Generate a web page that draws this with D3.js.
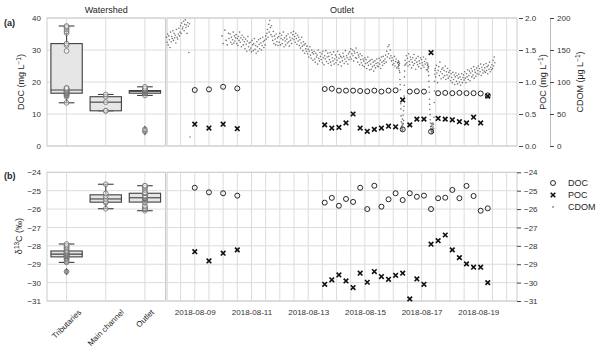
<!DOCTYPE html>
<html>
<head>
<meta charset="utf-8">
<script src="https://d3js.org/d3.v7.min.js"></script>
<style>
body { margin: 0; background: #fff; }
text { font-family: "Liberation Sans", Arial, sans-serif; fill: #262626; }
</style>
</head>
<body>
<script>
// ---- data ----
var categories = ["Tributaries", "Main channel", "Outlet"];

var tribDOC = [13.5, 15.4, 15.8, 16.0, 16.2, 16.4, 16.5, 16.7, 16.9, 17.0, 17.2, 17.4, 17.5,
  17.8, 18.0, 18.2, 29.7, 31.5, 32.0, 35.3, 35.8, 36.4, 36.9, 37.2, 37.5];
var mainDOC = [11.0, 11.0, 13.7, 15.4, 16.1];

var tribIso = [-29.40, -28.90, -28.85, -28.75, -28.70, -28.65, -28.60, -28.57, -28.55, -28.52,
  -28.50, -28.48, -28.45, -28.42, -28.40, -28.36, -28.33, -28.30, -28.28, -28.22, -28.15,
  -28.10, -28.05, -27.98, -27.90];
var mainIso = [-25.98, -25.65, -25.60, -25.45, -25.30, -25.15, -24.65];

var sampleTimes = ["2018-08-09T00:00", "2018-08-09T12:00", "2018-08-10T00:00", "2018-08-10T12:00",
  "2018-08-13T14:00", "2018-08-13T20:00", "2018-08-14T02:00", "2018-08-14T08:00",
  "2018-08-14T14:00", "2018-08-14T20:00", "2018-08-15T02:00", "2018-08-15T08:00",
  "2018-08-15T14:00", "2018-08-15T20:00", "2018-08-16T02:00", "2018-08-16T08:00",
  "2018-08-16T14:00", "2018-08-16T20:00", "2018-08-17T02:00", "2018-08-17T08:00",
  "2018-08-17T14:00", "2018-08-17T20:00", "2018-08-18T02:00", "2018-08-18T08:00",
  "2018-08-18T14:00", "2018-08-18T20:00", "2018-08-19T02:00", "2018-08-19T08:00"];
var outletDOC = [17.5, 17.7, 18.5, 18.0, 17.8, 17.9, 17.3, 17.3, 17.3, 17.2, 17.1, 17.3, 17.0,
  17.3, 17.4, 5.2, 17.0, 17.1, 17.0, 4.5, 16.5, 16.6, 16.5, 16.6, 16.5, 16.5, 16.4, 15.8];
var outletPOC = [0.34, 0.28, 0.34, 0.27, 0.33, 0.28, 0.29, 0.36, 0.50, 0.28, 0.23, 0.26, 0.28,
  0.31, 0.30, 0.72, 0.33, 0.42, 0.42, 1.46, 0.43, 0.42, 0.41, 0.38, 0.36, 0.45, 0.36, 0.78];
var outletIsoDOC = [-24.84, -25.09, -25.14, -25.27, -25.65, -25.39, -25.82, -25.45, -25.61,
  -24.84, -26.00, -24.73, -25.87, -25.47, -25.14, -25.51, -25.14, -25.33, -25.27, -26.00,
  -25.41, -25.38, -24.96, -25.41, -24.74, -25.29, -26.09, -25.96];
var outletIsoPOC = [-28.32, -28.82, -28.40, -28.22, -30.09, -29.85, -29.58, -29.91, -30.27,
  -29.49, -29.98, -29.40, -29.67, -29.82, -29.60, -29.49, -30.89, -29.80, -30.09, -27.91,
  -27.72, -27.41, -28.22, -28.64, -28.98, -29.16, -29.16, -30.00];

// CDOM logger record, split in pieces (start time, step in minutes, values)
var cdomStarts = ["2018-08-08T00:00", "2018-08-09T23:00", "2018-08-16T04:00",
  "2018-08-16T10:00", "2018-08-17T05:00", "2018-08-17T11:30"];
var cdomSteps = [30, 30, 10, 30, 10, 30];
var cdomA = [170, 162, 175, 158, 172, 166, 154, 178, 163, 171, 168, 180,
  165, 176, 169, 173, 161, 182, 170, 167, 175, 184, 172, 178,
  188, 176, 192, 183, 186, 195, 180, 190, 197, 185, 189, 176,
  193, 187, 146, 191, 14];
var cdomB = [172, null, 160, null, null, 181, null, 165, null, 158, null, 176,
  168, null, 175, 162, 170, 159, 166, 178, 161, 172, 164, 169,
  174, 160, 168, 157, 171, 165, 178, 162, 169, 155, 173, 166,
  158, 170, 163, 152, 167, 159, 148, 164, 171, 155, 161, 150,
  162, 153, 147, 165, 158, 149, 160, 168, 151, 157, 145, 163,
  155, 148, 166, 159, 152, 168, 161, 150, 157, 170, 163, 154,
  165, 158, 172, 167, 176, 182, 170, 190, 178, 196, 185, 174,
  188, 171, 165, 179, 160, 172, 167, 158, 175, 163, 169, 157,
  171, 162, 176, 158, 168, 173, 160, 166, 178, 155, 169, 164,
  158, 172, 167, 161, 175, 163, 156, 170, 165, 177, 160, 168,
  174, 179, 166, 171, 162, 176, 168, 159, 173, 164, 170, 157,
  166, 153, 161, 170, 156, 149, 163, 158, 145, 160, 152, 148,
  156, 144, 151, 139, 148, 155, 142, 137, 150, 146, 134, 144,
  148, 136, 131, 145, 139, 142, 128, 150, 137, 133, 146, 140,
  135, 144, 130, 148, 138, 127, 141, 136, 149, 132, 139, 145,
  129, 140, 135, 146, 131, 126, 143, 138, 133, 147, 128, 136,
  142, 130, 139, 134, 148, 127, 137, 143, 131, 140, 125, 138,
  133, 145, 140, 129, 136, 149, 132, 141, 138, 128, 144, 135,
  147, 139, 152, 136, 144, 150, 141, 133, 148, 145, 138, 153,
  137, 146, 131, 142, 139, 127, 144, 135, 130, 141, 126, 136,
  133, 124, 138, 129, 135, 121, 130, 139, 126, 132, 119, 134,
  128, 120, 135, 124, 131, 117, 126, 133, 122, 129, 136, 125,
  130, 124, 137, 128, 134, 121, 139, 131, 126, 140, 133, 129,
  136, 142, 131, 148, 139, 155, 144, 158, 137, 150, 141, 133,
  138, 127, 134, 129, 140, 125, 132, 136, 122, 130];
var cdomC = [130, 124, 133, 127, 121, 131, 126, 118, 129,
  115, 104, 96, 88, 75, 66, 58, 47, 38,
  31, 27, 36, 24, 42, 29, 33, 26, 48, 35, 55, 40,
  62, 78, 95, 108, 117, 126];
var cdomD = [134, 128, 141, 130, 137, 125, 144, 132, 127, 139, 135, 122,
  131, 138, 126, 143, 129, 134, 120, 137, 131, 127, 140, 124,
  133, 129, 138, 121, 135, 130, 126, 139, 123, 132, 128, 136, 119, 130];
var cdomE = [126, 119, 128, 122, 116, 124,
  110, 101, 92, 84, 73, 65, 57, 49, 41, 36, 30, 27,
  24, 31, 22, 35, 26, 20, 33, 28, 23, 36, 25, 30, 21, 34, 27,
  45, 68, 86, 101, 112, 118];
var cdomF = [121, 108, 126, 114, 99, 118, 124, 110, 131, 116, 105, 120,
  113, 122, 107, 118, 110, 125, 104, 116, 111, 121, 106, 115,
  109, 118, 102, 113, 107, 99, 115, 104, 111, 96, 108, 114,
  101, 110, 97, 106, 112, 100, 108, 95, 104, 113, 99, 107,
  111, 103, 116, 106, 99, 113, 108, 119, 104, 110, 117, 102,
  114, 121, 108, 117, 111, 124, 106, 119, 115, 109, 122, 113,
  118, 125, 112, 121, 116, 128, 110, 123, 119, 114, 127, 117,
  122, 115, 129, 118, 124, 113, 126, 120, 131, 116, 123, 119,
  127, 121, 134, 125, 139, 130];
var cdomPieces = [cdomA, cdomB, cdomC, cdomD, cdomE, cdomF];

var docTicks = [0, 10, 20, 30, 40];
var pocTicks = [0, 0.5, 1.0, 1.5, 2.0];
var cdomTicks = [0, 50, 100, 150, 200];
var isoTicks = [-31, -30, -29, -28, -27, -26, -25, -24];

// ---- setup ----
var parse = d3.timeParse("%Y-%m-%dT%H:%M");
var times = sampleTimes.map(parse);

var cdom = [];
cdomPieces.forEach(function(vals, k) {
  var t0 = parse(cdomStarts[k]);
  vals.forEach(function(v, i) {
    if (v !== null) cdom.push({ t: d3.timeMinute.offset(t0, i * cdomSteps[k]), v: v });
  });
});

var svg = d3.select("body").append("svg")
    .attr("width", 600)
    .attr("height", 351);

var leftX0 = 47, leftX1 = 165.5, rightX0 = 167, rightX1 = 517;
var aTop = 18, aBot = 146, bTop = 172.3, bBot = 301;
var gridCol = "#dcdcdc", frameCol = "#cccccc";

var xCat = d3.scaleBand().domain(categories).range([leftX0, 164.5]);
var xTime = d3.scaleTime()
    .domain([parse("2018-08-08T00:30"), parse("2018-08-20T08:45")])
    .range([rightX0, rightX1]);
var yDOC = d3.scaleLinear().domain([0, 40]).range([aBot, aTop]);
var yPOC = d3.scaleLinear().domain([0, 2]).range([aBot, aTop]);
var yCDOM = d3.scaleLinear().domain([0, 200]).range([aBot, aTop]);
var yIso = d3.scaleLinear().domain([-31, -24]).range([bBot, bTop]);

function cx(c) { return xCat(c) + xCat.bandwidth() / 2; }

// grid lines
function hGrid(ticks, y, x0, x1) {
  svg.append("g").selectAll("line").data(ticks).enter().append("line")
      .attr("x1", x0).attr("x2", x1)
      .attr("y1", function(d) { return y(d); }).attr("y2", function(d) { return y(d); })
      .attr("stroke", gridCol).attr("stroke-width", 1);
}
var halfDays = d3.timeHour.every(12).range(xTime.domain()[0], xTime.domain()[1]);
function vGridTime(top, bot) {
  svg.append("g").selectAll("line").data(halfDays).enter().append("line")
      .attr("x1", function(d) { return xTime(d); }).attr("x2", function(d) { return xTime(d); })
      .attr("y1", top).attr("y2", bot)
      .attr("stroke", gridCol).attr("stroke-width", 1);
}
function vGridCat(top, bot) {
  svg.append("g").selectAll("line").data(categories).enter().append("line")
      .attr("x1", cx).attr("x2", cx)
      .attr("y1", top).attr("y2", bot)
      .attr("stroke", gridCol).attr("stroke-width", 1);
}

[[aTop, aBot], [bTop, bBot]].forEach(function(p) {
  vGridCat(p[0], p[1]);
  vGridTime(p[0], p[1]);
});
hGrid(docTicks, yDOC, leftX0, leftX1);
hGrid(docTicks, yDOC, rightX0, rightX1);
hGrid(isoTicks, yIso, leftX0, leftX1);
hGrid(isoTicks, yIso, rightX0, rightX1);

function frame(x0, x1, top, bot) {
  svg.append("rect").attr("x", x0).attr("y", top)
      .attr("width", x1 - x0).attr("height", bot - top)
      .attr("fill", "none").attr("stroke", frameCol).attr("stroke-width", 1);
}
frame(leftX0, leftX1, aTop, aBot);
frame(rightX0, rightX1, aTop, aBot);
frame(leftX0, leftX1, bTop, bBot);
frame(rightX0, rightX1, bTop, bBot);

// ---- box plots ----
function drawBox(cat, values, y) {
  var s = values.slice().sort(d3.ascending);
  var q1 = d3.quantile(s, 0.25), med = d3.quantile(s, 0.5), q3 = d3.quantile(s, 0.75);
  var iqr = q3 - q1;
  var lo = d3.min(s.filter(function(v) { return v >= q1 - 1.5 * iqr; }));
  var hi = d3.max(s.filter(function(v) { return v <= q3 + 1.5 * iqr; }));
  var outl = s.filter(function(v) { return v < lo || v > hi; });
  var c = cx(cat), bw = xCat.bandwidth() * 0.8;
  var g = svg.append("g");
  var ink = "#3f3f3f";
  g.append("line").attr("x1", c).attr("x2", c).attr("y1", y(q3)).attr("y2", y(hi))
      .attr("stroke", ink).attr("stroke-width", 1.1);
  g.append("line").attr("x1", c).attr("x2", c).attr("y1", y(q1)).attr("y2", y(lo))
      .attr("stroke", ink).attr("stroke-width", 1.1);
  [lo, hi].forEach(function(v) {
    g.append("line").attr("x1", c - bw / 4).attr("x2", c + bw / 4)
        .attr("y1", y(v)).attr("y2", y(v)).attr("stroke", ink).attr("stroke-width", 1.1);
  });
  g.append("rect").attr("x", c - bw / 2).attr("y", y(q3))
      .attr("width", bw).attr("height", y(q1) - y(q3))
      .attr("fill", "#e6e6e6").attr("stroke", ink).attr("stroke-width", 1.1);
  g.append("line").attr("x1", c - bw / 2).attr("x2", c + bw / 2)
      .attr("y1", y(med)).attr("y2", y(med)).attr("stroke", ink).attr("stroke-width", 1.1);
  g.selectAll(".out").data(outl).enter().append("path")
      .attr("transform", function(d) { return "translate(" + c + "," + y(d) + ")"; })
      .attr("d", d3.symbol().type(d3.symbolDiamond).size(18))
      .attr("fill", ink);
  g.selectAll(".pt").data(s).enter().append("circle")
      .attr("cx", c).attr("cy", function(d) { return y(d); })
      .attr("r", 2.4)
      .attr("fill", "#ffffff").attr("fill-opacity", 0.45)
      .attr("stroke", "#6f6f6f").attr("stroke-width", 0.8);
}
drawBox("Tributaries", tribDOC, yDOC);
drawBox("Main channel", mainDOC, yDOC);
drawBox("Outlet", outletDOC, yDOC);
drawBox("Tributaries", tribIso, yIso);
drawBox("Main channel", mainIso, yIso);
drawBox("Outlet", outletIsoDOC, yIso);

// ---- time series ----
svg.append("g").selectAll("circle").data(cdom).enter().append("circle")
    .attr("cx", function(d) { return xTime(d.t); })
    .attr("cy", function(d) { return yCDOM(d.v); })
    .attr("r", 0.8)
    .attr("fill", "#3a3a3a").attr("fill-opacity", 0.7);

function circles(vals, y) {
  svg.append("g").selectAll("circle").data(vals).enter().append("circle")
      .attr("cx", function(d, i) { return xTime(times[i]); })
      .attr("cy", function(d) { return y(d); })
      .attr("r", 2.5)
      .attr("fill", "none").attr("stroke", "#111").attr("stroke-width", 0.9);
}
var crossPath = "M-2.3,-2.3L2.3,2.3M-2.3,2.3L2.3,-2.3";
function crosses(vals, y) {
  svg.append("g").selectAll("path").data(vals).enter().append("path")
      .attr("transform", function(d, i) { return "translate(" + xTime(times[i]) + "," + y(d) + ")"; })
      .attr("d", crossPath)
      .attr("stroke", "#111").attr("stroke-width", 1.6).attr("fill", "none");
}
circles(outletDOC, yDOC);
crosses(outletPOC, yPOC);
circles(outletIsoDOC, yIso);
crosses(outletIsoPOC, yIso);

// ---- axes ----
function styleAxis(g) {
  g.attr("font-family", null);
  g.selectAll("text").attr("font-size", 8).style("fill", "#333");
  g.selectAll(".tick line").attr("stroke", "#444");
}
var axA = svg.append("g").attr("transform", "translate(" + leftX0 + ",0)")
    .call(d3.axisLeft(yDOC).tickValues(docTicks).tickSize(0).tickPadding(6));
axA.select(".domain").remove();
styleAxis(axA);

var axB = svg.append("g").attr("transform", "translate(" + leftX0 + ",0)")
    .call(d3.axisLeft(yIso).tickValues(isoTicks).tickSize(0).tickPadding(6)
      .tickFormat(d3.format("d")));
axB.select(".domain").remove();
styleAxis(axB);

var axPOC = svg.append("g").attr("transform", "translate(519,0)")
    .call(d3.axisRight(yPOC).tickValues(pocTicks).tickSize(4).tickPadding(2)
      .tickFormat(d3.format(".1f")));
axPOC.select(".domain").remove();
styleAxis(axPOC);

var axCDOM = svg.append("g").attr("transform", "translate(550,0)")
    .call(d3.axisRight(yCDOM).tickValues(cdomTicks).tickSize(4).tickSizeOuter(0).tickPadding(3));
axCDOM.select(".domain").attr("stroke", "#bbbbbb");
styleAxis(axCDOM);

var axIsoR = svg.append("g").attr("transform", "translate(" + rightX1 + ",0)")
    .call(d3.axisRight(yIso).tickValues(isoTicks).tickSize(4).tickPadding(3)
      .tickFormat(d3.format("d")));
axIsoR.select(".domain").remove();
styleAxis(axIsoR);

var axTime = svg.append("g").attr("transform", "translate(0," + bBot + ")")
    .call(d3.axisBottom(xTime).ticks(d3.timeDay.every(2)).tickSize(0).tickPadding(8)
      .tickFormat(d3.timeFormat("%Y-%m-%d")));
axTime.select(".domain").remove();
styleAxis(axTime);

// rotated category labels
categories.forEach(function(c) {
  var t = svg.append("text").attr("font-size", 8).attr("text-anchor", "middle")
      .style("fill", "#262626").text(c);
  var len = t.node().getComputedTextLength();
  var yc = 308 + (len + 8) * 0.707 / 2;
  t.attr("transform", "translate(" + cx(c) + "," + yc + ") rotate(-45)")
      .attr("dy", "0.35em");
});

// ---- titles & labels ----
svg.append("text").attr("x", (leftX0 + leftX1) / 2).attr("y", 13)
    .attr("text-anchor", "middle").attr("font-size", 9).text("Watershed");
svg.append("text").attr("x", (rightX0 + rightX1) / 2).attr("y", 13)
    .attr("text-anchor", "middle").attr("font-size", 9).text("Outlet");
svg.append("text").attr("x", 4).attr("y", 26).attr("font-size", 9)
    .attr("font-weight", "bold").text("(a)");
svg.append("text").attr("x", 4).attr("y", 179).attr("font-size", 9)
    .attr("font-weight", "bold").text("(b)");

function unitLabel(x, y, pre, sup, post) {
  var t = svg.append("text")
      .attr("transform", "translate(" + x + "," + y + ") rotate(-90)")
      .attr("text-anchor", "middle").attr("font-size", 9);
  t.append("tspan").text(pre);
  t.append("tspan").attr("dy", -3.5).attr("font-size", 6.5).text(sup);
  t.append("tspan").attr("dy", 3.5).text(post);
}
unitLabel(24, 82, "DOC (mg L", "\u22121", ")");
unitLabel(546, 82, "POC (mg L", "\u22121", ")");
unitLabel(583, 82, "CDOM (\u03bcg L", "\u22121", ")");
unitLabel(22, 236, "\u03b4", "13", "C (\u2030)");

// legend
var legend = svg.append("g").attr("transform", "translate(553,183)");
var legItems = ["DOC", "POC", "CDOM"];
legItems.forEach(function(name, i) {
  var row = legend.append("g").attr("transform", "translate(0," + (i * 12) + ")");
  if (i === 0) row.append("circle").attr("r", 2.5).attr("fill", "none")
      .attr("stroke", "#111").attr("stroke-width", 0.9);
  if (i === 1) row.append("path").attr("d", crossPath).attr("stroke", "#111")
      .attr("stroke-width", 1.6);
  if (i === 2) row.append("circle").attr("r", 1.1).attr("fill", "#999");
  row.append("text").attr("x", 15).attr("dy", "0.35em").attr("font-size", 9).text(name);
});
</script>
</body>
</html>
